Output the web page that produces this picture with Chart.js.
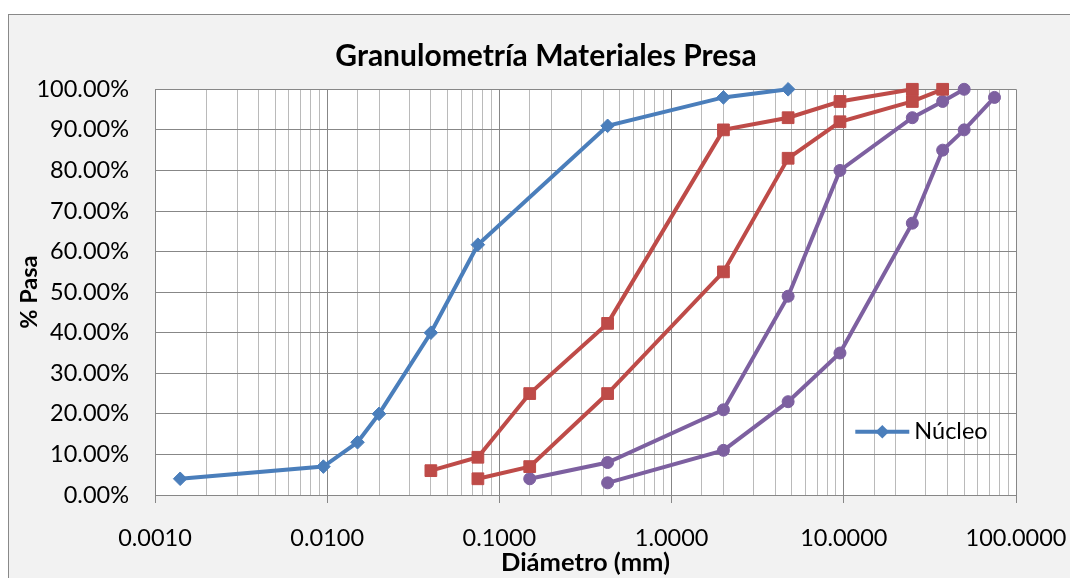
<!DOCTYPE html>
<html>
<head>
<meta charset="utf-8">
<title>Granulometría Materiales Presa</title>
<script src="https://cdn.jsdelivr.net/npm/chart.js@4.4.1/dist/chart.umd.min.js"></script>
<style>
  body { margin: 0; background: #fff; overflow: hidden; }
  #frame { position: absolute; left: 8px; top: 14px; width: 1100px; height: 600px; background: #f2f2f2; border: 1px solid #898989; }
  #chart { position: absolute; left: 0; top: 0; }
</style>
</head>
<body>
<div id="frame"></div>
<canvas id="chart" width="1070" height="578"></canvas>
<script>
// Diámetro (mm) y % que pasa de cada curva
const nucleoD = [0.0014, 0.0095, 0.015, 0.020, 0.040, 0.075, 0.425, 2.0, 4.75];
const nucleoP = [4, 7, 13, 20, 40, 61.7, 91, 98, 100];

const filtroSupD = [0.040, 0.075, 0.15, 0.425, 2.0, 4.75, 9.5, 25];
const filtroSupP = [6, 9.3, 25, 42.3, 90, 93, 97, 100];

const filtroInfD = [0.075, 0.15, 0.425, 2.0, 4.75, 9.5, 25, 37.5];
const filtroInfP = [4, 7, 25, 55, 83, 92, 97, 100];

const enrocadoSupD = [0.15, 0.425, 2.0, 4.75, 9.5, 25, 37.5, 50];
const enrocadoSupP = [4, 8, 21, 49, 80, 93, 97, 100];

const enrocadoInfD = [0.425, 2.0, 4.75, 9.5, 25, 37.5, 50, 75];
const enrocadoInfP = [3, 11, 23, 35, 67, 85, 90, 98];

// etiquetas de los ejes
const titulo = 'Granulometría Materiales Presa';
const xMajors = [0.001, 0.01, 0.1, 1, 10, 100];
const xTickLabels = ['0.0010', '0.0100', '0.1000', '1.0000', '10.0000', '100.0000'];
const yTickLabels = ['0.00%', '10.00%', '20.00%', '30.00%', '40.00%', '50.00%',
                     '60.00%', '70.00%', '80.00%', '90.00%', '100.00%'];

const AZUL = '#4a7ebb';
const ROJO = '#be4b48';
const MORADO = '#7d60a0';
const GRID_MAYOR = '#878787';
const GRID_MENOR = '#bababa';
const FUENTE = 'Lato';

function puntos(xs, ys) {
    return xs.map((x, i) => ({x: x, y: ys[i]}));
}

function esMayor(v) {
    const l = Math.log10(v);
    return Math.abs(l - Math.round(l)) < 1e-6;
}

function serie(label, xs, ys, color, estilo, radio) {
    return {
        label: label,
        data: puntos(xs, ys),
        borderColor: color,
        backgroundColor: color,
        borderWidth: 4,
        pointStyle: estilo,
        pointRadius: radio,
        pointHoverRadius: radio,
        pointBorderWidth: 1,
        tension: 0,
        clip: false
    };
}

// título centrado sobre el marco del gráfico (no sobre el canvas)
const tituloMarco = {
    id: 'tituloMarco',
    afterDraw(chart) {
        const ctx = chart.ctx;
        ctx.save();
        ctx.fillStyle = '#000';
        ctx.font = 'bold 30px ' + FUENTE;
        ctx.textAlign = 'center';
        ctx.textBaseline = 'middle';
        ctx.fillText(titulo, 546, 56);
        ctx.restore();
    }
};

// leyenda dentro del área de trazado (solo Núcleo)
const leyenda = {
    id: 'leyenda',
    afterDatasetsDraw(chart) {
        const ctx = chart.ctx;
        const a = chart.chartArea;
        const ds = chart.data.datasets[0];
        const y = a.top + (a.bottom - a.top) * 0.844;
        const x0 = a.right - 160.7;
        const x1 = a.right - 106.7;
        const xm = (x0 + x1) / 2;
        const r = 6.8;
        ctx.save();
        ctx.strokeStyle = ds.borderColor;
        ctx.lineWidth = 4;
        ctx.beginPath();
        ctx.moveTo(x0, y);
        ctx.lineTo(x1, y);
        ctx.stroke();
        ctx.fillStyle = ds.borderColor;
        ctx.beginPath();
        ctx.moveTo(xm, y - r);
        ctx.lineTo(xm + r, y);
        ctx.lineTo(xm, y + r);
        ctx.lineTo(xm - r, y);
        ctx.closePath();
        ctx.fill();
        ctx.fillStyle = '#000';
        ctx.font = '23.5px ' + FUENTE;
        ctx.textBaseline = 'middle';
        ctx.textAlign = 'left';
        ctx.fillText(ds.label, x1 + 5, y);
        ctx.restore();
    }
};

// fondo blanco del área de trazado
const fondo = {
    id: 'fondo',
    beforeDraw(chart) {
        const a = chart.chartArea;
        chart.ctx.save();
        chart.ctx.fillStyle = '#fff';
        chart.ctx.fillRect(a.left, a.top, a.right - a.left, a.bottom - a.top);
        chart.ctx.restore();
    }
};

chartIt();
async function chartIt() {
    try {
        await document.fonts.load('22px ' + FUENTE);
        await document.fonts.load('bold 22px ' + FUENTE);
    } catch (e) {}

    const ctx = document.getElementById('chart').getContext('2d');
    new Chart(ctx, {
        type: 'line',
        data: {
            datasets: [
                serie('Núcleo', nucleoD, nucleoP, AZUL, 'rectRot', 6.8),
                serie('Filtro superior', filtroSupD, filtroSupP, ROJO, 'rect', 8.3),
                serie('Filtro inferior', filtroInfD, filtroInfP, ROJO, 'rect', 8.3),
                serie('Enrocado superior', enrocadoSupD, enrocadoSupP, MORADO, 'circle', 6),
                serie('Enrocado inferior', enrocadoInfD, enrocadoInfP, MORADO, 'circle', 6)
            ]
        },
        plugins: [fondo, leyenda, tituloMarco],
        options: {
            responsive: false,
            animation: false,
            events: [],
            layout: { padding: { left: 0, right: 54, top: 89.3, bottom: 0 } },
            plugins: {
                legend: { display: false },
                tooltip: { enabled: false },
                title: { display: false }
            },
            scales: {
                x: {
                    type: 'logarithmic',
                    min: 0.001,
                    max: 100,
                    afterFit: s => {
                        s.height = 83;
                        s.paddingLeft = 0;
                        s.paddingRight = 0;
                    },
                    grid: {
                        color: c => (c.tick && esMayor(c.tick.value)) ? GRID_MAYOR : GRID_MENOR,
                        tickColor: c => (c.tick && esMayor(c.tick.value)) ? GRID_MAYOR : 'rgba(0,0,0,0)',
                        lineWidth: 1,
                        tickLength: 8
                    },
                    border: { color: GRID_MAYOR, width: 1 },
                    ticks: {
                        autoSkip: false,
                        maxRotation: 0,
                        padding: 21,
                        color: '#000',
                        font: { family: FUENTE, size: 23.5 },
                        callback: function(value) {
                            const i = xMajors.findIndex(m => Math.abs(Math.log10(m) - Math.log10(value)) < 1e-6);
                            return i >= 0 ? xTickLabels[i] : '';
                        }
                    },
                    title: {
                        display: true,
                        text: 'Diámetro (mm)',
                        color: '#000',
                        font: { family: FUENTE, size: 25.5, weight: 'bold' },
                        padding: { top: 0, bottom: 0 }
                    }
                },
                y: {
                    min: 0,
                    max: 100,
                    afterFit: s => {
                        s.width = 155;
                        s.paddingTop = 0;
                        s.paddingBottom = 0;
                    },
                    grid: { color: GRID_MAYOR, lineWidth: 1, drawTicks: false },
                    border: { color: GRID_MAYOR, width: 1 },
                    ticks: {
                        stepSize: 10,
                        padding: 26,
                        color: '#000',
                        font: { family: FUENTE, size: 23.5 },
                        callback: function(value, index) {
                            return yTickLabels[index];
                        }
                    },
                    title: {
                        display: true,
                        text: '% Pasa',
                        color: '#000',
                        font: { family: FUENTE, size: 23.5, weight: 'bold' },
                        padding: { top: 15.6, bottom: 0 }
                    }
                }
            }
        }
    });
}
</script>
</body>
</html>
